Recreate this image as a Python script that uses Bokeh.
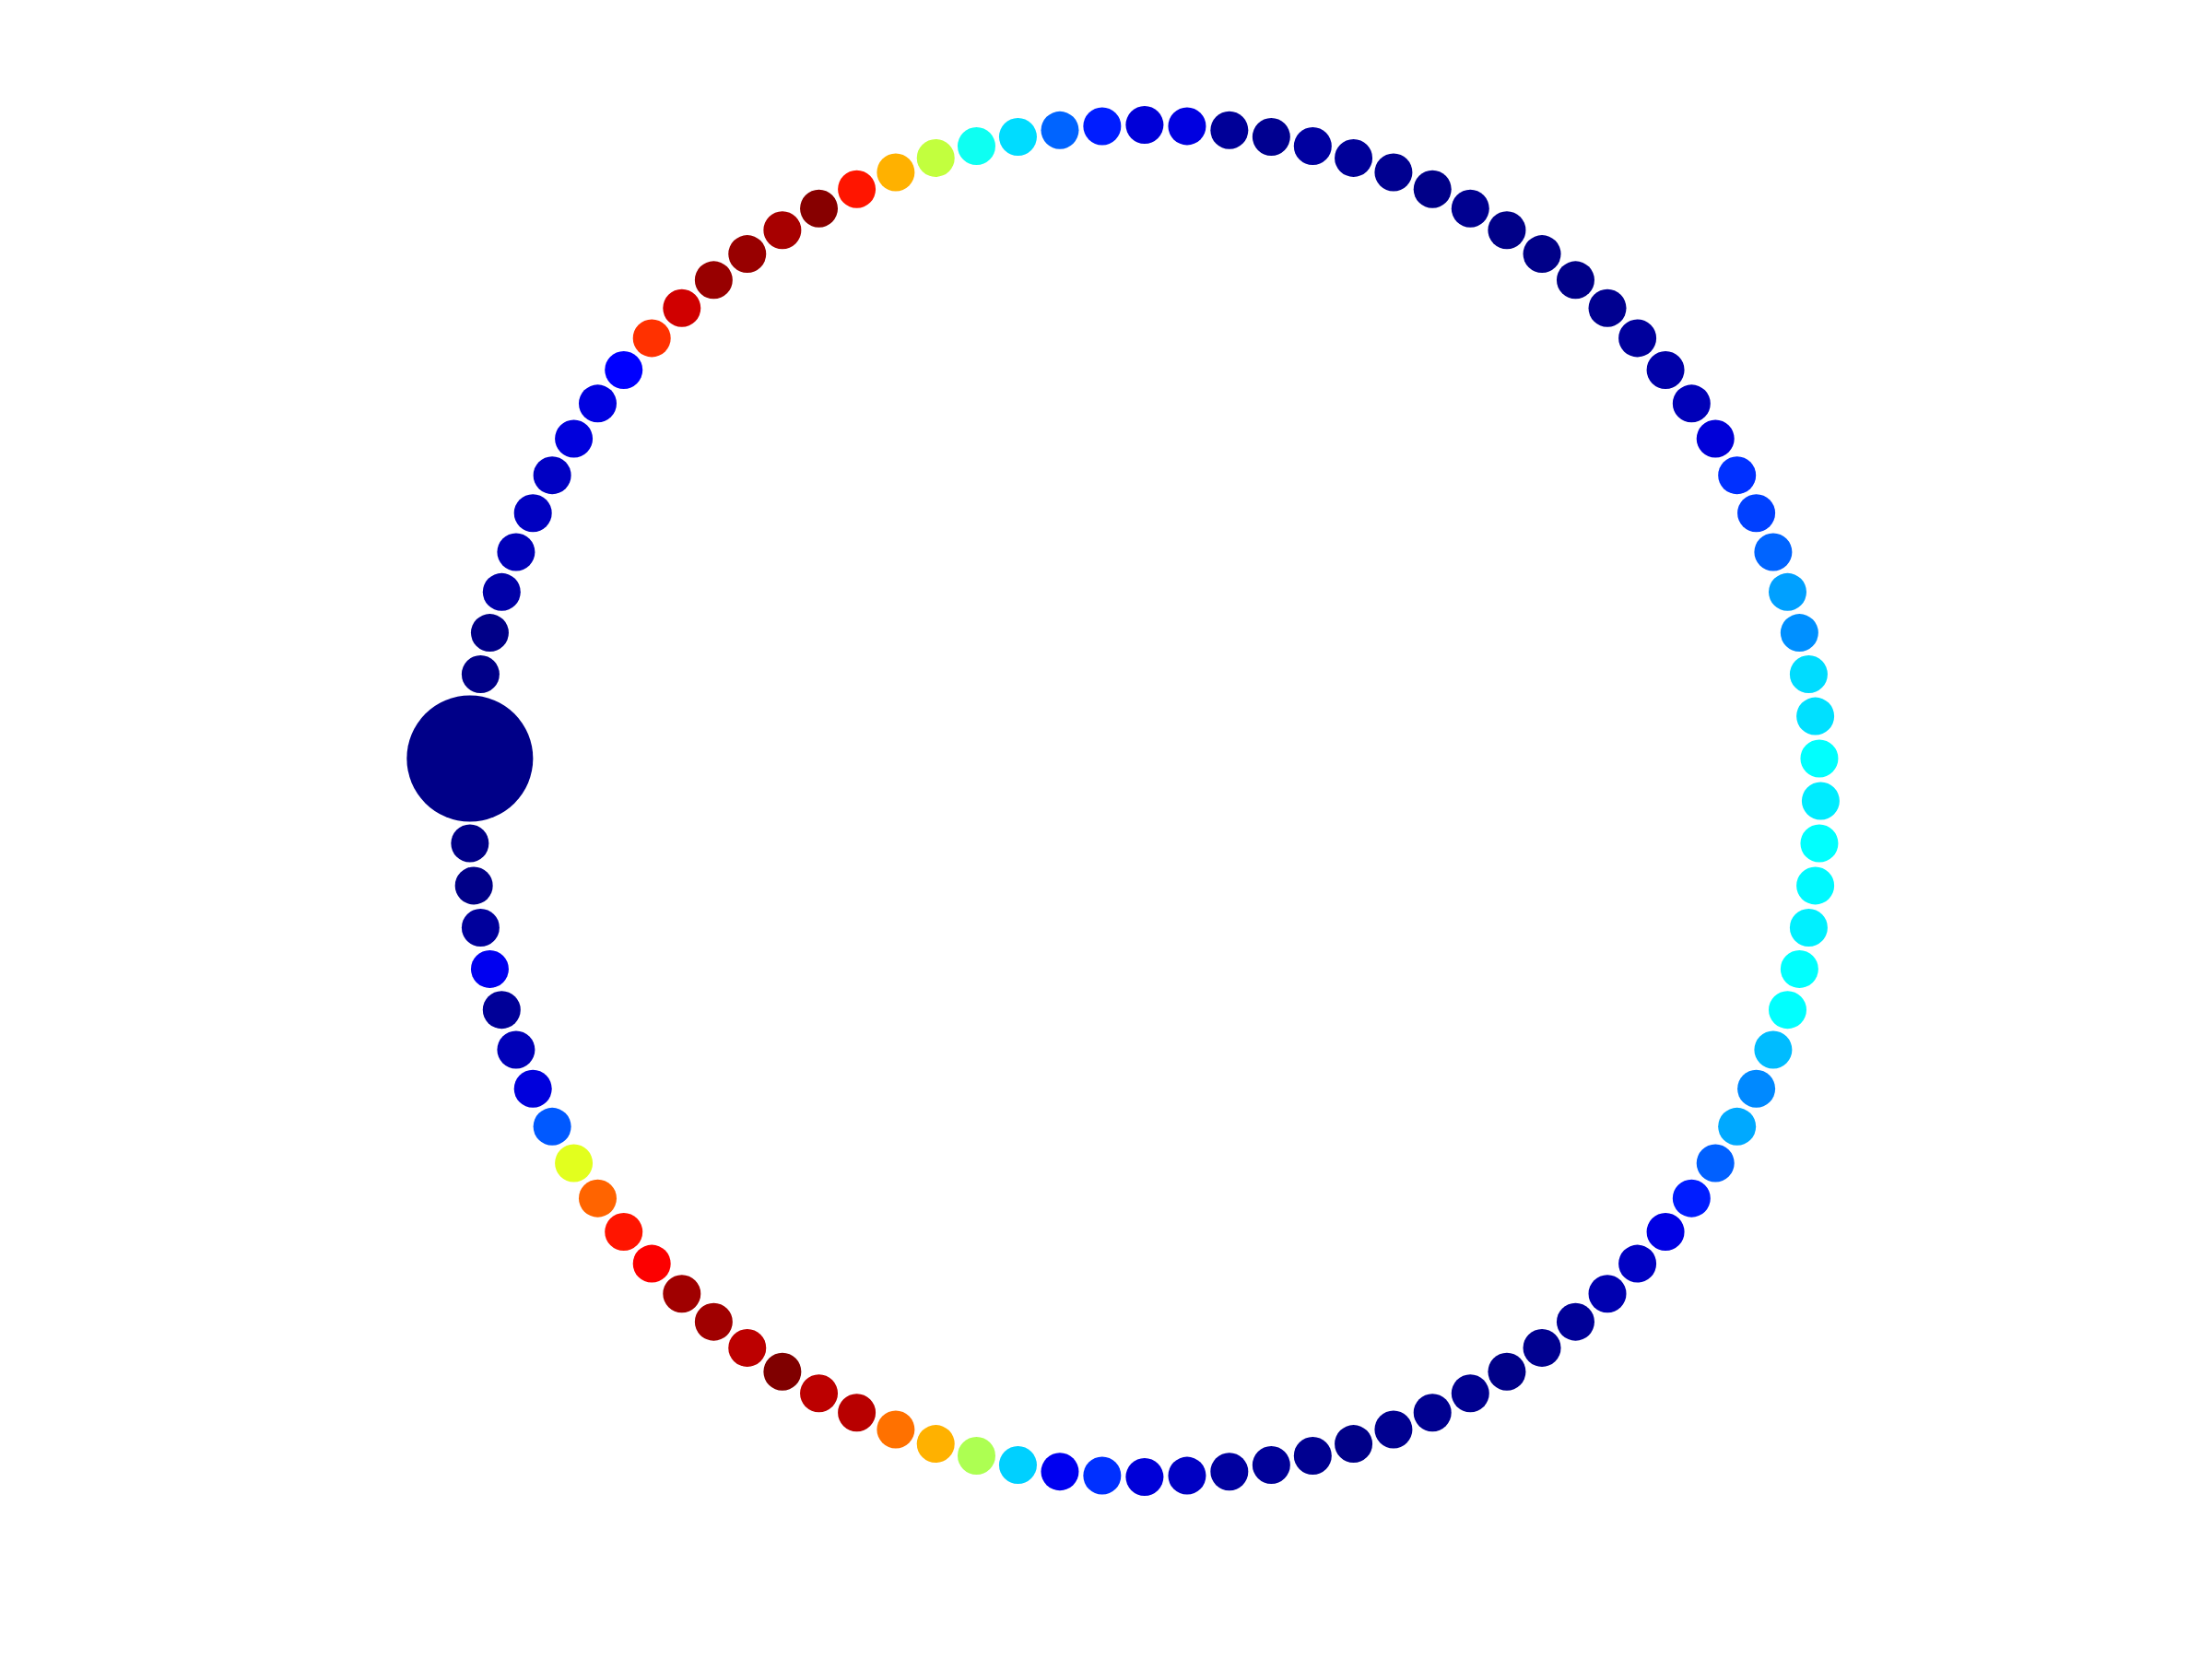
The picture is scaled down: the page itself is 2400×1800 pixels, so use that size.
import numpy as np
from bokeh.plotting import figure
from bokeh.models import ColumnDataSource
from bokeh.transform import linear_cmap
from bokeh.embed import file_html
from bokeh.resources import INLINE

# ---- data -------------------------------------------------------------
# 100 points evenly spaced on a circle, counter-clockwise from angle 0
n_points = 100
values = [
    0.358, 0.375, 0.345, 0.342, 0.266, 0.282, 0.225, 0.190, 0.175, 0.088,
    0.055, 0.040, 0.030, 0.016, 0.008, 0.008, 0.008, 0.016, 0.008, 0.016,
    0.025, 0.035, 0.016, 0.025, 0.095, 0.088, 0.156, 0.225, 0.342, 0.390,
    0.563, 0.703, 0.855, 0.989, 0.960, 0.975, 0.975, 0.920, 0.825, 0.125,
    0.095, 0.090, 0.070, 0.063, 0.055, 0.040, 0.008, 0.008, 0.008, 0.008,
    0.008, 0.008, 0.008, 0.030, 0.110, 0.024, 0.055, 0.090, 0.211, 0.594,
    0.775, 0.855, 0.875, 0.968, 0.968, 0.938, 1.000, 0.938, 0.945, 0.765,
    0.703, 0.545, 0.330, 0.110, 0.175, 0.088, 0.070, 0.035, 0.024, 0.016,
    0.008, 0.016, 0.016, 0.016, 0.008, 0.016, 0.024, 0.050, 0.070, 0.100,
    0.156, 0.220, 0.290, 0.258, 0.310, 0.375, 0.375, 0.360, 0.370, 0.375,
]
highlight_index = 49

# ---- geometry ---------------------------------------------------------
idx = np.arange(n_points)
theta = 2 * np.pi * idx / n_points
xs = np.cos(theta)
ys = np.sin(theta)

# MATLAB-style jet palette
def jet_hex(v):
    r = np.clip(1.5 - abs(4 * v - 3), 0, 1)
    g = np.clip(1.5 - abs(4 * v - 2), 0, 1)
    b = np.clip(1.5 - abs(4 * v - 1), 0, 1)
    return "#%02x%02x%02x" % (int(round(r * 255)), int(round(g * 255)), int(round(b * 255)))

jet_palette = [jet_hex(i / 255) for i in range(256)]

src = ColumnDataSource(dict(x=xs, y=ys, v=values))
hi = highlight_index
src_hi = ColumnDataSource(dict(x=[xs[hi]], y=[ys[hi]], v=[values[hi]]))

W, H = 2384, 1784
scale = 733.5          # px per data unit
cx, cy = 1241.4, 868.5  # canvas position of circle centre

p = figure(width=W, height=H, output_backend="svg", toolbar_location=None,
           x_range=(-cx / scale, (W - cx) / scale),
           y_range=(-(H - cy) / scale, cy / scale),
           min_border=0, background_fill_color="white",
           border_fill_color="white", outline_line_color=None)
p.axis.visible = False
p.grid.visible = False

cmap = linear_cmap("v", jet_palette, 0, 1)
p.scatter("x", "y", source=src, size=41, fill_color=cmap, line_color=None)
p.scatter("x", "y", source=src_hi, size=137, fill_color=cmap, line_color=None)

open("out.html", "w").write(file_html(p, INLINE))
